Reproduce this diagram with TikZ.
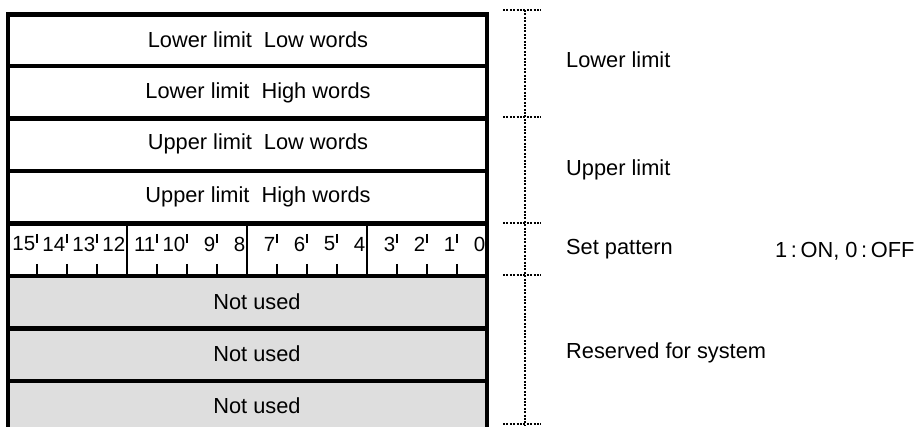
\documentclass[tikz,border=0pt]{standalone}
\usepackage{fontspec}
\setmainfont{Liberation Sans}
\begin{document}
\begin{tikzpicture}[x=1pt,y=-1pt,
  frame/.style={line width=4.5pt,line join=miter},
  thinline/.style={line width=1.5pt},
  dotline/.style={line width=2pt,dash pattern=on 2pt off 1.4pt},
  rowtext/.style={inner sep=0pt,font=\fontsize{21.8}{25}\selectfont},
  sidetext/.style={inner sep=0pt,anchor=west,font=\fontsize{21.8}{25}\selectfont},
  bittext/.style={inner sep=0pt,anchor=east,font=\fontsize{20.5}{24}\selectfont}]
\useasboundingbox (0,0) rectangle (915,427);
% grey rows
\fill[black!13] (8,275.8) rectangle (486,440);
% frame
\draw[frame] (8,440) -- (8,14.5) -- (487,14.5) -- (487,440);
\foreach \yy in {65.8,118.3,170.8,223.3,275.8,328.3,380.8}
  \draw[frame] (8,\yy) -- (487,\yy);
% bit row group dividers and ticks
\foreach \i in {4,8,12}
  \draw[thinline] (7+30*\i,223.3) -- (7+30*\i,275.8);
\foreach \i in {1,2,3,5,6,7,9,10,11,13,14,15}{
  \draw[thinline] (7+30*\i,234) -- (7+30*\i,243);
  \draw[thinline] (7+30*\i,264) -- (7+30*\i,275.8);
}
% bit labels
\foreach \k [count=\i from 0] in {15,14,13,12,11,10,9,8,7,6,5,4,3,2,1,0}
  \node[bittext] (b\k) at (35.5+30*\i,244) {\k};
% row texts
\node[rowtext] (r1) at (258,40) {Lower limit\hspace{0.55em}Low words};
\node[rowtext] (r2) at (258,93) {Lower limit\hspace{0.55em}High words};
\node[rowtext] (r3) at (258,144) {Upper limit\hspace{0.55em}Low words};
\node[rowtext] (r4) at (258,197) {Upper limit\hspace{0.55em}High words};
\node[rowtext] (r6) at (257,302) {Not used};
\node[rowtext] (r7) at (257,354) {Not used};
\node[rowtext] (r8) at (257,406) {Not used};
% dotted bracket
\coordinate (dt) at (525,10);
\coordinate (db) at (525,425);
\draw[dotline] (dt) -- (db);
\foreach \yy in {10,117,223,275,424}
  \draw[dotline] (503,\yy) -- (541,\yy);
% side labels
\node[sidetext] (s1) at (566,60) {Lower limit};
\node[sidetext] (s2) at (566,170) {Upper limit};
\node[sidetext] (s3) at (566,249) {Set pattern};
\node[sidetext] (s4) at (566,353) {Reserved for system};
\node[sidetext] (s5) at (775,251) {1\,:\,ON, 0\,:\,OFF};
\end{tikzpicture}
\end{document}
